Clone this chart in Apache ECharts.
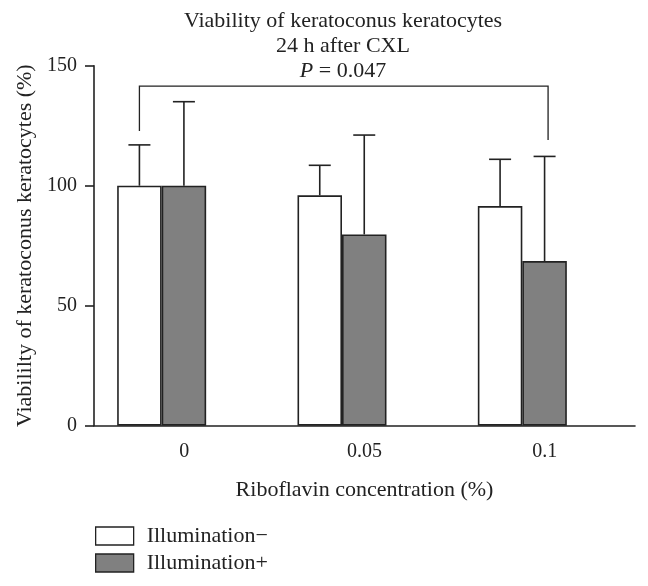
<!DOCTYPE html>
<html>
<head>
<meta charset="utf-8">
<script src="https://cdn.jsdelivr.net/npm/echarts@6/dist/echarts.min.js"></script>
<style>html,body{margin:0;padding:0;background:#fff;}#c{width:648px;height:586px;}</style>
</head>
<body>
<div id="c"></div>
<script>
const categories = ['0', '0.05', '0.1'];
const illumMinus = [100, 96, 91.5];
const illumPlus = [100, 79.7, 68.6];
const sdMinus = [17, 12.5, 19.5];
const sdPlus = [35, 41.4, 43.6];
const yTicks = [0, 50, 100, 150];
// bracket: [fromCategory, toCategory, topLevel, leftEnd, rightEnd]
const bracket = [0, 2, 141.5, 122.8, 119];
const seriesNames = ['Illumination\u2212', 'Illumination+'];

const FONT = 'Liberation Serif';
const INK = '#222';
const BAR_W = 44.5;

const chart = echarts.init(document.getElementById('c'), null, {renderer: 'canvas'});

function errorSeries(means, sds, offset, name) {
  return {
    type: 'custom',
    name: name + '_err',
    xAxisIndex: 0, yAxisIndex: 0,
    silent: true,
    z: 5,
    data: means.map((m, i) => [i, m, m + sds[i]]),
    renderItem: function (params, api) {
      const p1 = api.coord([api.value(0), api.value(1)]);
      const p2 = api.coord([api.value(0), api.value(2)]);
      const x = p1[0] + offset;
      const st = {stroke: INK, lineWidth: 1.6};
      return {
        type: 'group',
        children: [
          {type: 'line', shape: {x1: x, y1: p1[1], x2: x, y2: p2[1]}, style: st},
          {type: 'line', shape: {x1: x - 11, y1: p2[1], x2: x + 11, y2: p2[1]}, style: st}
        ]
      };
    }
  };
}

const option = {
  animation: false,
  backgroundColor: '#fff',
  title: {
    left: 343,
    top: 9,
    padding: 0,
    textAlign: 'center',
    text: '{a|Viability of keratoconus keratocytes}\n{a|24 h after CXL}\n{i|P}{a| = 0.047}',
    textStyle: {
      rich: {
        a: {fontFamily: FONT, fontSize: 22, color: INK, lineHeight: 25, fontWeight: 'normal'},
        i: {fontFamily: FONT, fontSize: 22, color: INK, lineHeight: 25, fontStyle: 'italic', fontWeight: 'normal'}
      }
    }
  },
  legend: {
    orient: 'vertical',
    left: 95,
    top: 525,
    padding: 0,
    itemWidth: 38,
    itemHeight: 18,
    itemGap: 5,
    icon: 'rect',
    data: seriesNames,
    itemStyle: {borderColor: INK, borderWidth: 1.3},
    textStyle: {fontFamily: FONT, fontSize: 22, color: INK, padding: [0, 0, 0, 8]}
  },
  grid: [
    {left: 94 - 22.5, right: 13 + 22.5, top: 65.7, bottom: 160.3},
    {left: 94, right: 13, top: 65.7, bottom: 160.3}
  ],
  xAxis: [
    {type: 'category', gridIndex: 0, data: categories, show: false, boundaryGap: true},
    {
      type: 'category', gridIndex: 1, data: categories, boundaryGap: true,
      axisLine: {lineStyle: {color: INK, width: 1.6}},
      axisTick: {alignWithLabel: true, length: 10, lineStyle: {color: INK, width: 1.6}},
      axisLabel: {fontFamily: FONT, fontSize: 20, color: INK, margin: 16},
      name: 'Riboflavin concentration (%)',
      nameLocation: 'middle',
      nameGap: 54,
      nameTextStyle: {fontFamily: FONT, fontSize: 22, color: INK}
    }
  ],
  yAxis: [
    {type: 'value', gridIndex: 0, min: 0, max: 150, interval: 50, show: false},
    {
      type: 'value', gridIndex: 1, min: yTicks[0], max: yTicks[yTicks.length - 1], interval: 50,
      splitLine: {show: false},
      axisLine: {show: true, lineStyle: {color: INK, width: 1.6}},
      axisTick: {show: true, length: 9, lineStyle: {color: INK, width: 1.6}},
      axisLabel: {fontFamily: FONT, fontSize: 20, color: INK, margin: 17},
      name: 'Viabililty of keratoconus keratocytes (%)',
      nameLocation: 'middle',
      nameGap: 53,
      nameRotate: 90,
      nameTextStyle: {fontFamily: FONT, fontSize: 22, color: INK}
    }
  ],
  series: [
    {
      type: 'bar', name: seriesNames[0], xAxisIndex: 0, yAxisIndex: 0,
      data: illumMinus, barWidth: BAR_W, barGap: '0%',
      itemStyle: {color: '#ffffff', borderColor: INK, borderWidth: 1.6}
    },
    {
      type: 'bar', name: seriesNames[1], xAxisIndex: 0, yAxisIndex: 0,
      data: illumPlus, barWidth: BAR_W, barGap: '0%',
      itemStyle: {color: '#808080', borderColor: INK, borderWidth: 1.6}
    },
    errorSeries(illumMinus, sdMinus, -BAR_W / 2, seriesNames[0]),
    errorSeries(illumPlus, sdPlus, BAR_W / 2, seriesNames[1]),
    {
      type: 'custom',
      name: 'bracket',
      xAxisIndex: 0, yAxisIndex: 0,
      silent: true,
      z: 5,
      data: [bracket],
      renderItem: function (params, api) {
        const pl = api.coord([api.value(0), api.value(2)]);
        const pr = api.coord([api.value(1), api.value(2)]);
        const yl = api.coord([api.value(0), api.value(3)])[1];
        const yr = api.coord([api.value(1), api.value(4)])[1];
        const xl = pl[0] - BAR_W / 2;
        const xr = pr[0] + BAR_W / 2 + 3.5;
        return {
          type: 'polyline',
          shape: {points: [[xl, yl], [xl, pl[1]], [xr, pl[1]], [xr, yr]]},
          style: {stroke: INK, lineWidth: 1.3, fill: null}
        };
      }
    }
  ]
};

chart.setOption(option);
</script>
</body>
</html>
